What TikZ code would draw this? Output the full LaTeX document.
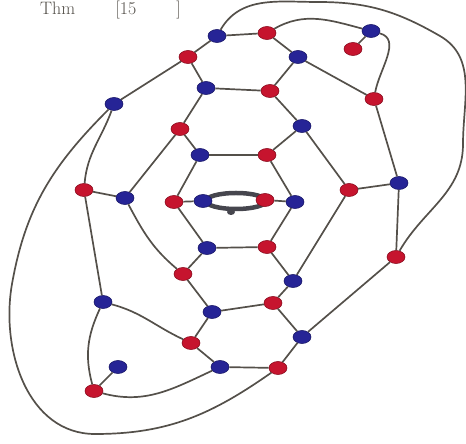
\documentclass[tikz,border=0pt]{standalone}
\usepackage{amsmath}
\usepackage{tikz}
\usetikzlibrary{shapes.geometric}
\definecolor{vred}{RGB}{198,20,46}
\definecolor{vblue}{RGB}{38,36,150}
\definecolor{linec}{RGB}{84,80,74}
\definecolor{ringc}{RGB}{70,70,78}

\begin{document}
\begin{tikzpicture}[x=1pt, y=1pt,
        rv/.style={ellipse, fill=vred, draw=vred!70!black, line width=0.6pt,
            minimum width=18pt, minimum height=13pt, inner sep=0pt},
        bv/.style={ellipse, fill=vblue, draw=vblue!70!black, line width=0.6pt,
            minimum width=18pt, minimum height=13pt, inner sep=0pt},
        link/.style={draw=linec, line width=1.7pt}]
        \useasboundingbox (0,0) rectangle (466,444);

        \node[anchor=base west, text=linec, font=\fontsize{18}{18}\selectfont,
            inner sep=0pt] (ttl) at (40,429)
            {Thm\hspace{40pt}[15\hspace{40pt}]};

        \draw[ringc, line width=4.5pt] (236,243) ellipse (30 and 8);
        \fill[ringc] (231,232) ellipse (4 and 3);

        \node[bv] (b1) at (217,408) {};
        \node[rv] (r1) at (267,411) {};
        \node[bv] (b2) at (371,413) {};
        \node[rv] (r2) at (353,395) {};
        \node[rv] (r3) at (188,387) {};
        \node[bv] (b3) at (298,387) {};
        \node[bv] (b4) at (206,356) {};
        \node[rv] (r4) at (270,353) {};
        \node[rv] (r5) at (374,345) {};
        \node[bv] (b5) at (114,340) {};
        \node[rv] (r6) at (180,315) {};
        \node[bv] (b6) at (302,318) {};
        \node[bv] (b7) at (200,289) {};
        \node[rv] (r7) at (267,289) {};
        \node[rv] (r8) at (84,254) {};
        \node[bv] (b8) at (125,246) {};
        \node[rv] (r9) at (174,242) {};
        \node[bv] (b9) at (203,243) {};
        \node[rv] (r10) at (265,244) {};
        \node[bv] (b10) at (295,242) {};
        \node[rv] (r11) at (349,254) {};
        \node[bv] (b11) at (399,261) {};
        \node[bv] (b12) at (207,196) {};
        \node[rv] (r12) at (267,197) {};
        \node[rv] (r13) at (183,170) {};
        \node[bv] (b13) at (293,163) {};
        \node[rv] (r14) at (396,187) {};
        \node[bv] (b14) at (103,142) {};
        \node[rv] (r15) at (273,141) {};
        \node[bv] (b16) at (212,132) {};
        \node[rv] (r16) at (191,101) {};
        \node[bv] (b17) at (302,107) {};
        \node[bv] (b18) at (220,77) {};
        \node[rv] (r17) at (278,76) {};
        \node[bv] (b19) at (118,77) {};
        \node[rv] (r18) at (94,53) {};

        \draw[link] (b1) -- (r1);
        \draw[link] (b1) -- (r3);
        \draw[link] (r1) -- (b3);
        \draw[link] (r3) -- (b4);
        \draw[link] (r3) -- (b5);
        \draw[link] (b3) -- (r4);
        \draw[link] (b3) -- (r5);
        \draw[link] (b4) -- (r4);
        \draw[link] (b4) -- (r6);
        \draw[link] (r4) -- (b6);
        \draw[link] (r6) -- (b7);
        \draw[link] (r6) -- (b8);
        \draw[link] (b6) -- (r7);
        \draw[link] (b6) -- (r11);
        \draw[link] (b7) -- (r7);
        \draw[link] (b7) -- (r9);
        \draw[link] (r7) -- (b10);
        \draw[link] (r8) -- (b8);
        \draw[link] (r8) -- (b14);
        \draw[link] (r9) -- (b12);
        \draw[link] (r9) -- (b9);
        \draw[link] (r10) -- (b10);
        \draw[link] (b10) -- (r12);
        \draw[link] (r11) -- (b11);
        \draw[link] (r11) -- (b13);
        \draw[link] (b11) -- (r5);
        \draw[link] (b11) -- (r14);
        \draw[link] (b12) -- (r12);
        \draw[link] (b12) -- (r13);
        \draw[link] (r12) -- (b13);
        \draw[link] (r13) -- (b16);
        \draw[link] (b13) -- (r15);
        \draw[link] (r14) -- (b17);
        \draw[link] (r15) -- (b16);
        \draw[link] (r15) -- (b17);
        \draw[link] (b16) -- (r16);
        \draw[link] (r16) -- (b18);
        \draw[link] (b17) -- (r17);
        \draw[link] (b18) -- (r17);
        \draw[link] (r18) -- (b19);
        \draw[link] (b2) -- (r2);

        \draw[link] (b8) to[out=-62, in=140] (r13);
        \draw[link] (r1) to[out=30, in=165] (b2);
        \draw[link] (b2) to[out=-15, in=80] (r5);
        \draw[link] (b5) to[out=-110, in=85] (r8);
        \draw[link] (b14) to[out=-15, in=155] (r16);
        \draw[link] (b14) to[out=-115, in=105] (r18);
        \draw[link] (r18) to[out=-15, in=-155] (b18);
        \draw[link] (b1) to[out=60, in=180] (318,442) to[out=0, in=150] (440,408)
            to[out=-30, in=90] (463,300) to[out=-90, in=60] (r14);
        \draw[link] (b5) to[out=-135, in=80] (12,160) to[out=-100, in=180] (95,10)
            to[out=0, in=-145] (r17);
\end{tikzpicture}
\end{document}
